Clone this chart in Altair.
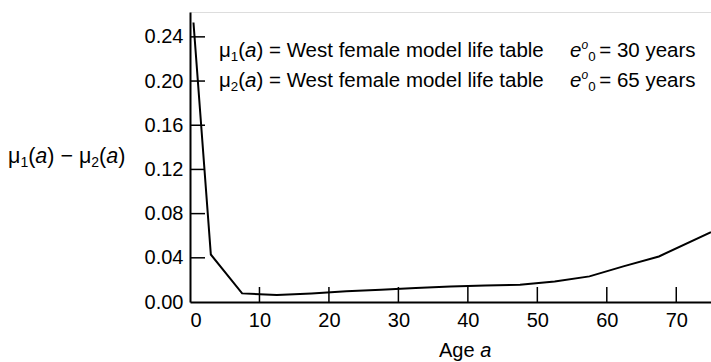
import altair as alt
import pandas as pd

# Age (interval midpoints) and difference in death rates mu1(a) - mu2(a)
age = [0.5, 3, 7.5, 12.5, 17.5, 22.5, 27.5, 32.5, 37.5, 42.5, 47.5, 52.5, 57.5, 62.5, 67.5, 75]
mu_diff = [0.253, 0.043, 0.0078, 0.0063, 0.0078, 0.0097, 0.0112, 0.0127, 0.0141, 0.0150, 0.0157,
           0.0185, 0.0232, 0.0325, 0.0412, 0.0632]

x_ticks = [0, 10, 20, 30, 40, 50, 60, 70]
y_ticks = [0.00, 0.04, 0.08, 0.12, 0.16, 0.20, 0.24]

FONT = "Liberation Sans"
PAD_L, PAD_T, PAD_R, PAD_B = 190, 12, 0, 60
W, H = 521, 290

x_scale = alt.Scale(domain=[0, 75], nice=False, zero=False)
y_scale = alt.Scale(domain=[0, 0.2625], nice=False, zero=False)

df = pd.DataFrame({"age": age, "diff": mu_diff})

line = alt.Chart(df).mark_line(color="black", strokeWidth=2).encode(
    x=alt.X("age:Q", scale=x_scale,
            axis=alt.Axis(values=x_ticks, format="d", title=None, ticks=False, grid=False,
                          domainColor="black", domainWidth=2, labelFont=FONT, labelFontSize=20,
                          labelColor="black", labelPadding=8)),
    y=alt.Y("diff:Q", scale=y_scale,
            axis=alt.Axis(values=y_ticks, format=".2f", title=None, ticks=False, grid=False,
                          domainColor="black", domainWidth=2, labelFont=FONT, labelFontSize=20,
                          labelColor="black", labelPadding=7)),
)

# Tick marks drawn inside the plot area
xt = alt.Chart(pd.DataFrame({"v": x_ticks[1:]})).mark_rule(color="black", strokeWidth=1.5).encode(
    x=alt.X("v:Q", scale=x_scale), y=alt.value(H), y2=alt.value(H - 15))
yt = alt.Chart(pd.DataFrame({"v": y_ticks[1:]})).mark_rule(color="black", strokeWidth=1.5).encode(
    y=alt.Y("v:Q", scale=y_scale), x=alt.value(0), x2=alt.value(15))

# Advance widths (per 1000 em) for laying out mixed-style text runs
ADV = {" ": 278, "(": 333, ")": 333, "=": 584, "\u2212": 584, "\u03bc": 576, "a": 556, "b": 556,
       "d": 556, "e": 556, "f": 278, "g": 556, "i": 222, "l": 222, "m": 833, "o": 556, "r": 333,
       "s": 500, "t": 278, "y": 500, "A": 667, "W": 944}


def adv(text, size):
    return sum(ADV.get(c, 556) for c in text) * size / 1000


def rich(parts, x0, y0):
    """Place text runs one after another starting at canvas position (x0, y0)."""
    layers = []
    x = x0
    for text, size, italic, dy in parts:
        if text is None:
            x += size
            continue
        layers.append(
            alt.Chart(pd.DataFrame({"t": [text]})).mark_text(
                align="left", baseline="alphabetic", font=FONT, fontSize=size,
                fontStyle="italic" if italic else "normal", color="black",
            ).encode(text="t:N", x=alt.value(x - PAD_L), y=alt.value(y0 + dy - PAD_T))
        )
        x += adv(text, size)
    return layers


def life_table_line(k, e0, s=20.5):
    sub = s * 0.65
    return [
        ("\u03bc", s, False, 0), (k, sub, False, 4), ("(", s, False, 0), ("a", s, True, 0),
        (") = West female model life table", s, False, 0), (None, 26, False, 0),
        ("e", s, True, 0), ("o", 12, True, -8), ("0 ", sub, False, 4), (f"= {e0} years", s, False, 0),
    ]


texts = []
texts += rich(life_table_line("1", 30), 219, 57)
texts += rich(life_table_line("2", 65), 219, 87)
texts += rich([
    ("\u03bc", 21.5, False, 0), ("1", 14, False, 4), ("(", 21.5, False, 0), ("a", 21.5, True, 0),
    (") \u2212 ", 21.5, False, 0),
    ("\u03bc", 21.5, False, 0), ("2", 14, False, 4), ("(", 21.5, False, 0), ("a", 21.5, True, 0),
    (")", 21.5, False, 0),
], 8, 163)
texts += rich([("Age ", 20, False, 0), ("a", 20, True, 0)], 439, 357)

chart = alt.layer(line, xt, yt, *texts).properties(
    width=W, height=H,
    padding={"left": PAD_L, "top": PAD_T, "right": PAD_R, "bottom": PAD_B},
    autosize=alt.AutoSizeParams(type="none"),
).configure_view(stroke=None).configure(background="white")

chart.save("out.html", embed_options={"renderer": "svg", "actions": False})
